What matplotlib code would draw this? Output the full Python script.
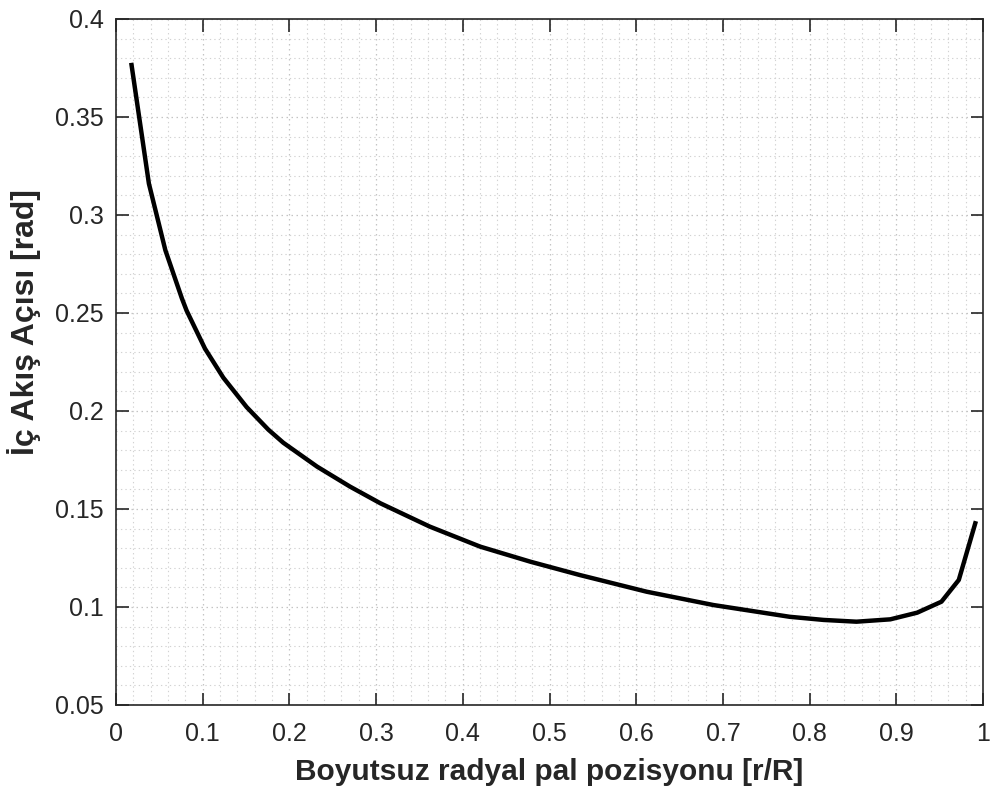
import matplotlib
matplotlib.use("Agg")
import matplotlib.pyplot as plt
from matplotlib.ticker import MultipleLocator, FuncFormatter

# =========================
# Data
# =========================
r_over_R = [0.018, 0.038, 0.057, 0.076, 0.0815, 0.1027, 0.1238, 0.1507, 0.1757, 0.193,
            0.232, 0.270, 0.305, 0.362, 0.420, 0.478, 0.535, 0.612, 0.689,
            0.777, 0.816, 0.854, 0.893, 0.924, 0.952, 0.972, 0.991]
inflow_angle = [0.3765, 0.316, 0.282, 0.2575, 0.2512, 0.2318, 0.2170, 0.2020, 0.1905, 0.1838,
                0.1716, 0.1614, 0.1529, 0.141, 0.1308, 0.1231, 0.1163, 0.1078, 0.101,
                0.095, 0.0934, 0.0925, 0.0937, 0.0971, 0.1027, 0.1138, 0.1427]

x_ticks = [0, 0.1, 0.2, 0.3, 0.4, 0.5, 0.6, 0.7, 0.8, 0.9, 1.0]
y_ticks = [0.05, 0.1, 0.15, 0.2, 0.25, 0.3, 0.35, 0.4]

plt.rcParams["font.family"] = ["Liberation Sans", "DejaVu Sans"]

fig = plt.figure(figsize=(9.91, 7.87), dpi=100)
ax = fig.add_axes([0.117, 0.1042, 0.875, 0.8717])

ax.plot(r_over_R, inflow_angle, color="black", linewidth=3.2,
        solid_joinstyle="round")

ax.set_xlim(0, 1)
ax.set_ylim(0.05, 0.4)
ax.set_xticks(x_ticks)
ax.set_yticks(y_ticks)
ax.xaxis.set_minor_locator(MultipleLocator(0.02))
ax.yaxis.set_minor_locator(MultipleLocator(0.01))
ax.xaxis.set_major_formatter(FuncFormatter(lambda v, p: f"{v:g}"))
ax.yaxis.set_major_formatter(FuncFormatter(lambda v, p: f"{v:g}"))

# MATLAB-like look: ticks inward on all sides, sparse light dotted grid
ax.tick_params(which="major", direction="in", length=9, width=1.2,
               top=True, right=True, labelsize=18, colors="#262626", pad=9)
ax.tick_params(axis="x", which="major", pad=12)
ax.tick_params(which="minor", direction="in", length=0, top=True, right=True)
ax.grid(which="major", linestyle=(0, (1.2, 2.8)), color="#c4c4c4", linewidth=0.9)
ax.grid(which="minor", linestyle=(0, (1.2, 2.8)), color="#d2d2d2", linewidth=0.8)
for s in ax.spines.values():
    s.set_color("#262626")
    s.set_linewidth(1.2)

ax.set_xlabel("Boyutsuz radyal pal pozisyonu [r/R]", fontsize=21.5,
              fontweight="bold", color="#262626", labelpad=9)
ax.set_ylabel("İç Akış Açısı [rad]", fontsize=23,
              fontweight="bold", color="#262626")
ax.yaxis.set_label_coords(-0.086, 0.558)

fig.savefig("out.png", dpi=100)
plt.close(fig)
